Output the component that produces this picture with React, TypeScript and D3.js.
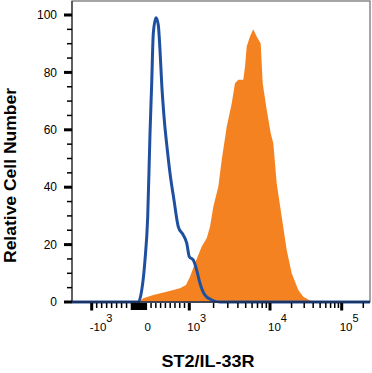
import React from "react";
import * as d3 from "d3";

// ---- data (fluorescence intensity, relative cell number) ----
const isotypeX = [-1400, -150, -64, 4, 73, 130, 178, 213, 247, 303, 351, 387, 423, 471, 540, 596, 680, 770, 874, 946, 1000, 1121, 1235, 1357, 1565, 1895, 2402, 250000];
const isotypeY = [0, 0, 0, 4, 14.6, 29.7, 58.8, 76, 93.6, 99, 96.5, 87.8, 76, 64.6, 53, 44.9, 35.5, 26.2, 23.3, 20.5, 15.8, 14.6, 11.1, 6.5, 2.4, 0.7, 0, 0];

const stainedX = [-64, 38, 247, 527, 805, 931, 1020, 1177, 1425, 1643, 1805, 1984, 2288, 2521, 2907, 3353, 3684, 4049, 4668, 4900, 5144, 5653, 6200, 6842, 7670, 8121, 9101, 10228, 11120, 12400, 14560, 17100, 20080, 24810, 29140, 36140, 44800];
const stainedY = [0, 1.3, 2.4, 3.6, 4.8, 5.9, 8.8, 13.5, 19.3, 22.2, 26.2, 33.2, 40.2, 49.5, 61.1, 69.2, 76.2, 77.4, 77.4, 82, 89, 92.5, 95, 92.5, 90.1, 76.2, 67, 58.8, 55.3, 41.4, 29.7, 18.1, 10, 4.2, 1.8, 0.5, 0];

const yMajorTicks = [0, 20, 40, 60, 80, 100];
const yMinorTicks = d3.range(5, 100, 5).filter((v) => v % 20 !== 0);

const xMajorTicks = [-1000, 1000, 10000, 100000];
const xMajorLabels = [
  { v: -1000, base: "-10", sup: "3" },
  { v: 0, base: "0", sup: "" },
  { v: 1000, base: "10", sup: "3" },
  { v: 10000, base: "10", sup: "4" },
  { v: 100000, base: "10", sup: "5" },
];
const xMinorTicks = [
  ...d3.range(-900, -200, 100),
  ...d3.range(200, 1000, 100),
  ...d3.range(2000, 10000, 1000),
  ...d3.range(20000, 100000, 10000),
  200000,
];
const xZeroBlockTicks = d3.range(-200, 101, 15);

// ---- layout ----
const W = 372;
const H = 373;
const left = 72;
const right = 370;
const top = 1;
const bottom = 302;

// biexponential-like display: linear around zero, log above 10^3
const linX = d3.scaleLinear().domain([-1000, 0, 1000]).range([91.7, 141.5, 189.3]);
const logX = d3.scaleLinear().domain([3, 4, 5]).range([189.3, 270, 341.7]);
const x = (v: number) => (v <= 1000 ? linX(v) : logX(Math.log10(v)));

const y = d3.scaleLinear().domain([0, 100]).range([bottom, 15]);

const FONT = "'Liberation Sans', Arial, Helvetica, sans-serif";

export default function App() {
  const stained = stainedX.map((v, i) => [v, stainedY[i]] as [number, number]);
  const isotype = isotypeX.map((v, i) => [v, isotypeY[i]] as [number, number]);

  const area = d3
    .area<[number, number]>()
    .x((d) => Math.max(left, Math.min(right, x(d[0]))))
    .y0(y(0))
    .y1((d) => y(d[1]))
    .curve(d3.curveLinear);

  const line = d3
    .line<[number, number]>()
    .x((d) => Math.max(left, Math.min(right, x(d[0]))))
    .y((d) => y(d[1]))
    .curve(d3.curveMonotoneX);

  return (
    <svg
      width={W}
      height={H}
      style={{ position: "absolute", left: 0, top: 0, background: "#fff" }}
      fontFamily={FONT}
    >
      <rect x={0} y={0} width={W} height={H} fill="#fff" />
      {/* frame */}
      <rect x={left} y={top} width={right - left} height={bottom - top} fill="none" stroke="#6b6b6b" strokeWidth={1.2} />

      {/* data */}
      <path d={area(stained) || ""} fill="#F58220" />
      <path d={line(isotype) || ""} fill="none" stroke="#1F4F9F" strokeWidth={3} strokeLinejoin="round" />

      {/* x axis line */}
      <line x1={left} x2={right} y1={bottom} y2={bottom} stroke="#1a2a4a" strokeWidth={1.6} />
      {/* y axis line */}
      <line x1={left} x2={left} y1={top} y2={bottom} stroke="#333" strokeWidth={1.2} />

      {/* y ticks */}
      {yMajorTicks.map((t) => (
        <g key={"ym" + t}>
          <line x1={64} x2={left} y1={y(t)} y2={y(t)} stroke="#000" strokeWidth={3} />
          <text x={57} y={y(t)} dy="0.35em" textAnchor="end" fontSize={12} fill="#000">
            {t}
          </text>
        </g>
      ))}
      {yMinorTicks.map((t) => (
        <line key={"yn" + t} x1={67} x2={left} y1={y(t)} y2={y(t)} stroke="#000" strokeWidth={1.5} />
      ))}

      {/* x ticks */}
      {xMajorTicks.map((t) => (
        <line key={"xm" + t} x1={x(t)} x2={x(t)} y1={bottom + 1} y2={bottom + 8.5} stroke="#000" strokeWidth={3} />
      ))}
      {xZeroBlockTicks.map((t) => (
        <line key={"xz" + t} x1={x(t)} x2={x(t)} y1={bottom + 1} y2={bottom + 8} stroke="#000" strokeWidth={1.6} />
      ))}
      {xMinorTicks.map((t) => (
        <line key={"xn" + t} x1={x(t)} x2={x(t)} y1={bottom + 1} y2={bottom + 6} stroke="#000" strokeWidth={1.5} />
      ))}
      {xMajorLabels.map((l) => (
        <text key={"xl" + l.v} x={x(l.v) + (l.sup ? -2 : 3)} y={331} fontSize={11.5} fill="#000">
          {l.base}
          {l.sup && (
            <tspan dy={-9} fontSize={11}>
              {l.sup}
            </tspan>
          )}
        </text>
      ))}

      {/* axis titles */}
      <text
        x={208}
        y={367}
        textAnchor="middle"
        fontSize={16.5}
        fontWeight="bold"
        fill="#000"
        textLength={93}
        lengthAdjust="spacingAndGlyphs"
      >
        ST2/IL-33R
      </text>
      <text
        transform={`translate(16,${175.5}) rotate(-90)`}
        textAnchor="middle"
        fontSize={16}
        fontWeight="bold"
        fill="#000"
        textLength={175}
        lengthAdjust="spacingAndGlyphs"
      >
        Relative Cell Number
      </text>
    </svg>
  );
}
